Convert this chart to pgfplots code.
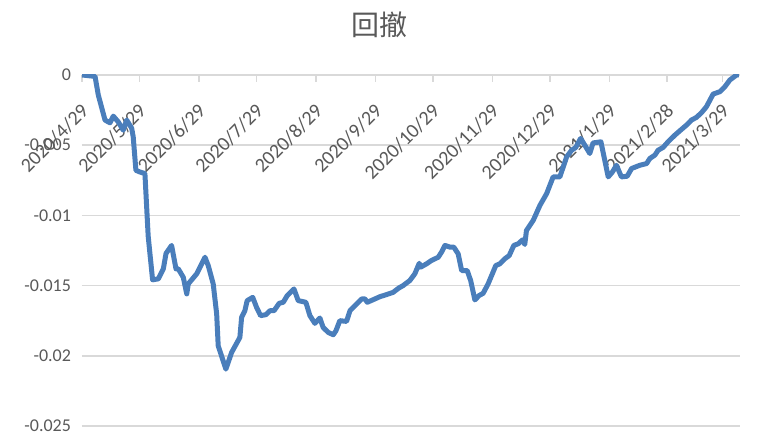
\documentclass[border=0pt]{standalone}
\usepackage{pgfplots}
\pgfplotsset{compat=1.18}
\usepackage{fontspec}
\setmainfont{Carlito}
\newfontfamily\cjk{Noto Sans CJK SC}
\definecolor{lineblue}{HTML}{4A7EBB}
\definecolor{gridgray}{HTML}{D9D9D9}
\definecolor{textgray}{HTML}{595959}

% drawdown, x = calendar days since 2020/4/29
\pgfplotstableread{
d v
0 0
6.8 -0.0001
8.5 -0.00143
12.0 -0.00321
14.6 -0.00341
16.3 -0.00293
18.9 -0.00334
21.5 -0.00393
23.3 -0.00321
25.9 -0.00379
26.7 -0.00441
28.1 -0.00679
30.2 -0.00691
32.8 -0.00702
34.5 -0.01148
36.8 -0.01459
39.8 -0.01452
42.4 -0.01381
43.8 -0.01271
46.7 -0.01214
49.0 -0.01381
50.2 -0.01381
52.8 -0.01441
54.6 -0.01559
55.4 -0.01488
59.8 -0.01416
64.1 -0.01298
65.8 -0.01357
68.4 -0.01488
70.2 -0.01702
71.0 -0.01929
75.0 -0.02095
78.0 -0.01976
82.3 -0.01869
83.2 -0.01726
84.9 -0.01679
86.1 -0.01607
89.0 -0.01584
91.0 -0.01655
93.1 -0.01714
95.9 -0.01707
98.0 -0.01679
100.1 -0.01679
102.8 -0.01626
104.9 -0.01619
107.0 -0.01571
110.5 -0.01524
112.7 -0.01607
116.7 -0.01619
118.8 -0.01714
121.4 -0.01769
124.0 -0.01731
125.7 -0.01798
128.4 -0.01834
131.0 -0.01850
132.4 -0.01821
134.4 -0.01750
137.9 -0.01755
139.7 -0.01679
142.3 -0.01643
145.8 -0.01595
147.5 -0.01595
148.7 -0.01619
152.7 -0.01595
155.3 -0.01579
158.8 -0.01564
162.2 -0.01548
165.3 -0.01516
167.4 -0.01500
170.9 -0.01464
173.5 -0.01416
175.8 -0.01341
176.5 -0.01369
179.6 -0.01345
182.2 -0.01321
185.7 -0.01298
187.4 -0.01262
189.2 -0.01214
191.8 -0.01226
193.8 -0.01226
196.1 -0.01274
197.9 -0.01393
200.8 -0.01393
202.6 -0.01464
204.8 -0.01602
207.0 -0.01571
209.1 -0.01555
211.7 -0.01488
215.7 -0.01357
217.8 -0.01345
220.4 -0.01309
222.7 -0.01286
225.1 -0.01214
227.4 -0.01202
229.7 -0.01174
230.8 -0.01207
231.7 -0.01107
235.2 -0.01036
238.7 -0.00929
242.2 -0.00845
245.6 -0.00726
249.1 -0.00726
252.6 -0.00584
255.2 -0.00536
257.4 -0.00516
259.9 -0.00452
262.1 -0.00500
264.7 -0.00559
266.4 -0.00484
270.5 -0.00476
272.5 -0.00607
274.3 -0.00726
276.5 -0.00691
278.6 -0.00643
281.2 -0.00726
284.2 -0.00721
286.5 -0.00666
290.8 -0.00643
294.3 -0.00631
296.0 -0.00595
298.6 -0.00571
300.3 -0.00536
302.9 -0.00516
305.5 -0.00476
309.0 -0.00429
311.6 -0.00398
315.1 -0.00357
317.7 -0.00321
320.3 -0.00302
322.9 -0.00269
325.5 -0.00226
329.0 -0.00136
332.5 -0.00119
335.1 -0.00084
337.7 -0.00036
341.2 0
342.4 0
}\drawdown

\begin{document}
\begin{tikzpicture}
\begin{axis}[
    scale only axis,
    width=329pt, height=175.5pt,
    xmin=0, xmax=343,
    ymin=-0.025, ymax=0,
    axis line style={draw=none},
    scaled y ticks=false,
    ytick={-0.025,-0.02,-0.015,-0.01,-0.005,0},
    yticklabels={-0.025,-0.02,-0.015,-0.01,-0.005,0},
    ymajorgrids=true,
    grid style={gridgray, line width=0.75pt},
    ytick style={draw=none},
    xtick={0,30,61,91,122,153,183,214,244,275,305,334},
    xticklabels={2020/4/29,2020/5/29,2020/6/29,2020/7/29,2020/8/29,2020/9/29,2020/10/29,2020/11/29,2020/12/29,2021/1/29,2021/2/28,2021/3/29},
    xtick pos=top,
    xticklabel pos=top,
    tick align=inside,
    major tick length=3.5pt,
    xtick style={gridgray, line width=0.75pt},
    xticklabel style={yshift=-14pt, xshift=4pt, rotate=45, anchor=east, font=\fontsize{10}{11}\selectfont, text=textgray},
    yticklabel style={font=\fontsize{9}{10}\selectfont, text=textgray, xshift=-2pt},
    title={\cjk 回撤},
    title style={at={(0.5,1)}, anchor=center, yshift=19pt, xshift=-15.5pt, font=\fontsize{14}{16}\selectfont, text=textgray},
]
\addplot[lineblue, line width=2.5pt, line join=round] table[x=d, y=v] {\drawdown};
\end{axis}
\pgfresetboundingbox
\path ([xshift=-41pt,yshift=-10.5pt]current axis.south west) rectangle ([xshift=10.5pt,yshift=37.5pt]current axis.north east);
\end{tikzpicture}
\end{document}
